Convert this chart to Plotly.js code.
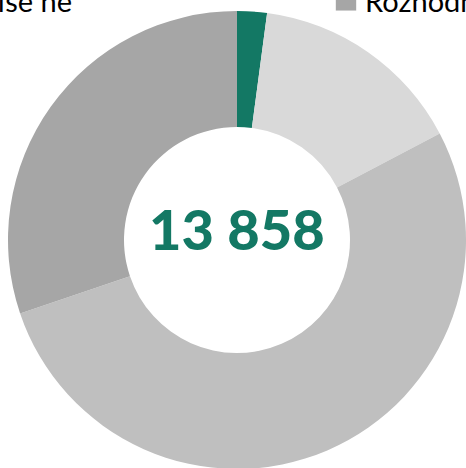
<!DOCTYPE html>
<html><head><meta charset="utf-8">
<script src="https://cdn.plot.ly/plotly-3.0.1.min.js"></script>
<style>html,body{margin:0;padding:0;overflow:hidden;width:466px;height:468px;background:#fff}
#chart{position:absolute;left:-900px;top:-60px;}</style>
</head><body><div id="chart"></div>
<script>
const categories = ["Rozhodně ano", "Spíše ano", "Spíše ne", "Rozhodně ne"];
const shares = [2.1, 15.2, 52.5, 30.2];
const colors = ["#137864", "#d9d9d9", "#bfbfbf", "#a6a6a6"];
const totalLabel = "13 858";

const W = 1800, H = 700, L = 900, T = 60;
const cx = 237 + L, cy = 240 + T, R = 229;

const trace = {
  type: "pie", labels: categories, values: shares,
  marker: {colors: colors, line: {width: 0}},
  hole: 113/229, sort: false, direction: "clockwise", rotation: 0,
  textinfo: "none", hoverinfo: "label+percent",
  domain: {x: [(cx - R)/W, (cx + R)/W], y: [(H - cy - R)/H, (H - cy + R)/H]}
};
const layout = {
  width: W, height: H, margin: {l:0, r:0, t:0, b:0},
  paper_bgcolor: "#fff", font: {family: "Lato, 'Open Sans', sans-serif", color: "#000"},
  showlegend: true,
  legend: {orientation: "h", x: 28/W, xanchor: "left", y: 1 - 35/H, yanchor: "top",
           font: {size: 29, color: "#000"}, entrywidth: 354, entrywidthmode: "pixels", bgcolor: "rgba(0,0,0,0)"},
  annotations: [{text: totalLabel, showarrow: false, xref: "paper", yref: "paper",
    x: cx/W, y: 1 - (cy - 11)/H, xanchor: "center", yanchor: "middle",
    font: {size: 56, weight: 900, color: "#137864", family: "Lato, 'Open Sans', sans-serif"}}]
};
Plotly.newPlot("chart", [trace], layout, {displayModeBar: false, staticPlot: true}).then(function(gd){
  gd.querySelectorAll(".legendpoints path").forEach(function(p){
    p.setAttribute("transform", "translate(21,0) scale(1.7)");
  });
});
</script></body></html>
